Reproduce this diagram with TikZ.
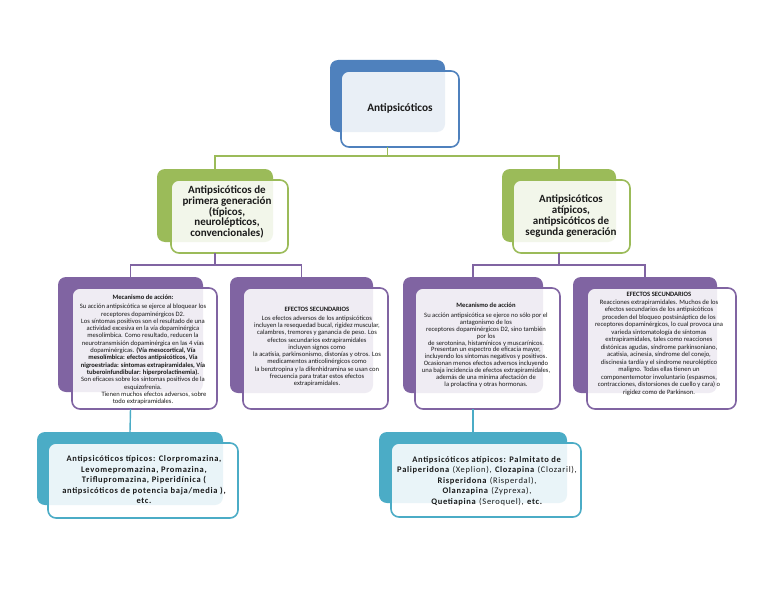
\documentclass[tikz,border=0pt]{standalone}
\usepackage{fontspec}
\setmainfont{Carlito}
\definecolor{cblue}{HTML}{4F81BD}
\definecolor{cgreen}{HTML}{9BBB59}
\definecolor{cpurple}{HTML}{8064A2}
\definecolor{cteal}{HTML}{4BACC6}
\definecolor{ctext}{HTML}{1A1A1A}
\newcommand\mkbox[6]{%
  \node[#1, minimum width={(#5-#3)*1pt}, minimum height={(#6-#4)*1pt}] (#2) at ({(#3+#5)/2},{(#4+#6)/2}) {};}
\tikzset{
  backbox/.style={rectangle, rounded corners=8pt, inner sep=0pt, outer sep=0pt, draw=none},
  frontbox/.style={rectangle, rounded corners=8pt, inner sep=0pt, outer sep=0pt, line width=1.6pt, fill=white, fill opacity=0.88},
  conn/.style={line width=1.4pt},
  ttop/.style={align=center, inner sep=0pt, text=ctext, font=\fontsize{11.3}{13}\selectfont\bfseries},
  tlev2/.style={align=center, inner sep=0pt, text=ctext, font=\fontsize{11}{10.8}\selectfont\bfseries},
  tlev3/.style={align=center, inner sep=0pt, text=ctext, font=\fontsize{6.6}{7.3}\selectfont},
  tlev4/.style={align=center, inner sep=0pt, text=ctext, font=\fontsize{8.5}{10.5}\selectfont\addfontfeature{LetterSpace=8}},
}
\begin{document}
\begin{tikzpicture}[x=1pt,y=-1pt]
\useasboundingbox (0,0) rectangle (768,594);
\fill[white] (0,0) rectangle (768,594);

% ---- back boxes ----
\mkbox{backbox, fill=cblue}{b0}{330}{60}{445}{132}
\mkbox{backbox, fill=cgreen}{bl}{157}{169}{273}{242}
\mkbox{backbox, fill=cgreen}{br}{502}{169}{616}{242}
\mkbox{backbox, fill=cpurple}{b1}{58}{277}{203}{392}
\mkbox{backbox, fill=cpurple}{b2}{230}{277}{373}{393}
\mkbox{backbox, fill=cpurple}{b3}{403}{277}{543}{393}
\mkbox{backbox, fill=cpurple}{b4}{573}{277}{717}{393}
\mkbox{backbox, fill=cteal}{bm}{37}{432}{223}{505}
\mkbox{backbox, fill=cteal}{bn}{379}{432}{567}{503}

% ---- front boxes ----
\mkbox{frontbox, draw=cblue}{f0}{341}{71}{459}{147}
\mkbox{frontbox, draw=cgreen}{fl}{171}{180}{288}{253}
\mkbox{frontbox, draw=cgreen}{fr}{513}{180}{630}{253}
\mkbox{frontbox, draw=cpurple}{f1}{72}{288}{217}{409}
\mkbox{frontbox, draw=cpurple}{f2}{243}{288}{388}{409}
\mkbox{frontbox, draw=cpurple}{f3}{415}{288}{560}{409}
\mkbox{frontbox, draw=cpurple}{f4}{587}{288}{736}{409}
\mkbox{frontbox, draw=cteal}{fm}{48}{443}{238}{518}
\mkbox{frontbox, draw=cteal}{fn}{391}{443}{581}{517}

% ---- connectors ----
\draw[conn, cgreen] (b0.center |- f0.south) -- ++(0,9) -| (bl.north);
\draw[conn, cgreen] (b0.center |- f0.south) ++(0,9) -| (br.north);
\draw[conn, cpurple] (bl.center |- fl.south) -- ++(0,12) -| (b1.north);
\draw[conn, cpurple] (bl.center |- fl.south) ++(0,12) -| (b2.north);
\draw[conn, cpurple] (br.center |- fr.south) -- ++(0,12) -| (b3.north);
\draw[conn, cpurple] (br.center |- fr.south) ++(0,12) -| (b4.north);
\draw[conn, cteal] (b1.center |- f1.south) -- (bm.north);
\draw[conn, cteal] (b3.center |- f3.south) -- (bn.north);

% ---- texts ----
\node[ttop] (t0) at (400,108) {Antipsicóticos};
\node[tlev2] (tl) at (227,212) {Antipsicóticos de\\primera generación\\(típicos,\\neurolépticos,\\convencionales)};
\node[tlev2] (tr) at (571,216) {Antipsicóticos\\atípicos,\\antipsicóticos de\\segunda generación};

\node[tlev3] (t1) at (143,350) {\textbf{Mecanismo de acción:}\\[1.5pt]
Su acción antipsicótica se ejerce al bloquear los\\
receptores dopaminérgicos D2.\\
Los síntomas positivos son el resultado de una\\
actividad excesiva en la vía dopaminérgica\\
mesolímbica. Como resultado, reducen la\\
neurotransmisión dopaminérgica en las 4 vías\\
dopaminérgicas. \textbf{(Vía mesocortical, Vía}\\
\textbf{mesolímbica: efectos antipsicóticos, Vía}\\
\textbf{nigroestriada: síntomas extrapiramidales, Vía}\\
\textbf{tuberoinfundibular: hiperprolactinemia).}\\
Son eficaces sobre los síntomas positivos de la\\
esquizofrenia.\\
\hspace*{22pt}Tienen muchos efectos adversos, sobre\\
todo extrapiramidales.};

\node[tlev3] (t2) at (317,347) {\textbf{EFECTOS SECUNDARIOS}\\[1.5pt]
Los efectos adversos de los antipsicóticos\\
incluyen la resequedad bucal, rigidez muscular,\\
calambres, tremores y ganancia de peso. Los\\
efectos secundarios extrapiramidales\\
incluyen signos como\\
la acatisia, parkinsonismo, distonías y otros. Los\\
medicamentos anticolinérgicos como\\
la benztropina y la difenhidramina se usan con\\
frecuencia para tratar estos efectos\\
extrapiramidales.};

\node[tlev3, font=\fontsize{6.6}{6.9}\selectfont] (t3) at (486,345) {\textbf{Mecanismo de acción}\\[3.5pt]
Su acción antipsicótica se ejerce no sólo por el\\
antagonismo de los\\
receptores dopaminérgicos D2, sino también\\
por los\\
de serotonina, histamínicos y muscarínicos.\\
Presentan un espectro de eficacia mayor,\\
incluyendo los síntomas negativos y positivos.\\
Ocasionan menos efectos adversos incluyendo\\
una baja incidencia de efectos extrapiramidales,\\
además de una mínima afectación de\\
la prolactina y otras hormonas.};

\node[tlev3, font=\fontsize{6.6}{7.5}\selectfont] (t4) at (659,344) {\textbf{EFECTOS SECUNDARIOS}\\
Reacciones extrapiramidales. Muchos de los\\
efectos secundarios de los antipsicóticos\\
proceden del bloqueo postsináptico de los\\
receptores dopaminérgicos, lo cual provoca una\\
varieda sintomatología de síntomas\\
extrapiramidales, tales como reacciones\\
distónicas agudas, síndrome parkinsoniano,\\
acatisia, acinesia, síndrome del conejo,\\
discinesia tardía y el síndrome neuroléptico\\
maligno. Todas ellas tienen un\\
componentemotor involuntario (espasmos,\\
contracciones, distorsiones de cuello y cara) o\\
rigidez como de Parkinson.};

\node[tlev4] (tm) at (144,480) {\bfseries Antipsicóticos típicos: Clorpromazina,\\
\bfseries Levomepromazina, Promazina,\\
\bfseries Triflupromazina, Piperidínica (\\
\bfseries antipsicóticos de potencia baja/media ),\\
\bfseries etc.};

\node[tlev4] (tn) at (487,481) {\textbf{Antipsicóticos atípicos: Palmitato de}\\
\textbf{Paliperidona} (Xeplion), \textbf{Clozapina} (Clozaril),\\
\textbf{Risperidona} (Risperdal),\\
\textbf{Olanzapina} (Zyprexa),\\
\textbf{Quetiapina} (Seroquel), \textbf{etc.}};
\end{tikzpicture}
\end{document}
